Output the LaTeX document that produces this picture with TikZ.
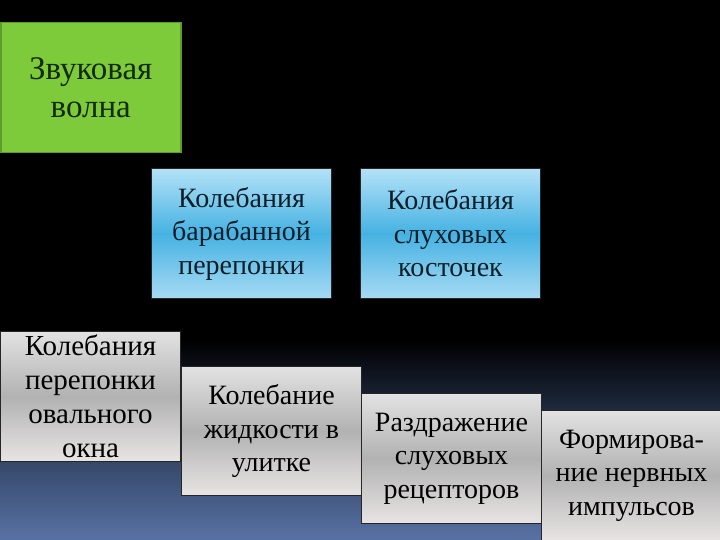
\documentclass[tikz,border=0pt]{standalone}
\usepackage{fontspec}
\setmainfont{Liberation Serif}
\usetikzlibrary{shadings}
\definecolor{bgblue}{HTML}{5872A4}
\definecolor{bgmid}{HTML}{2C3C5A}
\definecolor{grnfill}{HTML}{7DCB3B}
\definecolor{grnedge}{HTML}{5E9C30}
\definecolor{grntext}{HTML}{142A0A}
\definecolor{bluetop}{HTML}{B4E2F8}
\definecolor{bluemid}{HTML}{46B2E2}
\definecolor{bluebot}{HTML}{A6DAF4}
\definecolor{bluetext}{HTML}{0E1E28}
\definecolor{graytop}{HTML}{E2E2E2}
\definecolor{graymid}{HTML}{B2B2B2}
\definecolor{graybot}{HTML}{E8E4E4}
\tikzset{
  box/.style={anchor=north west, minimum width=180pt, minimum height=130pt,
    inner sep=0pt, align=center,
    font=\fontsize{28pt}{33.5pt}\selectfont},
  greenbox/.style={box, fill=grnfill, draw=grnedge, line width=1.5pt, text=grntext,
    font=\fontsize{33pt}{38pt}\selectfont},
  bluebox/.style={box, draw=black!85, line width=1pt, top color=bluetop,
    bottom color=bluebot, middle color=bluemid, text=bluetext},
  graybox/.style={box, draw=black!85, line width=1pt, top color=graytop,
    bottom color=graybot, middle color=graymid, text=black}
}
\begin{document}
\begin{tikzpicture}[x=1pt,y=-1pt]
\useasboundingbox (0,0) rectangle (720,540);
\fill[black] (0,0) rectangle (720,540);
\shade[top color=black, bottom color=bgblue, middle color=bgmid] (0,340) rectangle (720,540);
\node[greenbox] (wave) at (0,22) {Звуковая\\волна};
\node[bluebox] (drum) at (151,168) {Колебания\\барабанной\\перепонки};
\node[bluebox] (bones) at (360,168) {Колебания\\слуховых\\косточек};
\node[graybox, font=\fontsize{29pt}{34pt}\selectfont] (oval) at (0,331) {Колебания\\перепонки\\овального\\окна};
\node[graybox, minimum height=129pt] (fluid) at (181,366) {Колебание\\жидкости в\\улитке};
\node[graybox] (recept) at (361,393) {Раздражение\\слуховых\\рецепторов};
\node[graybox] (nerve) at (541,410) {Формирова-\\ние нервных\\импульсов};
\end{tikzpicture}
\end{document}
